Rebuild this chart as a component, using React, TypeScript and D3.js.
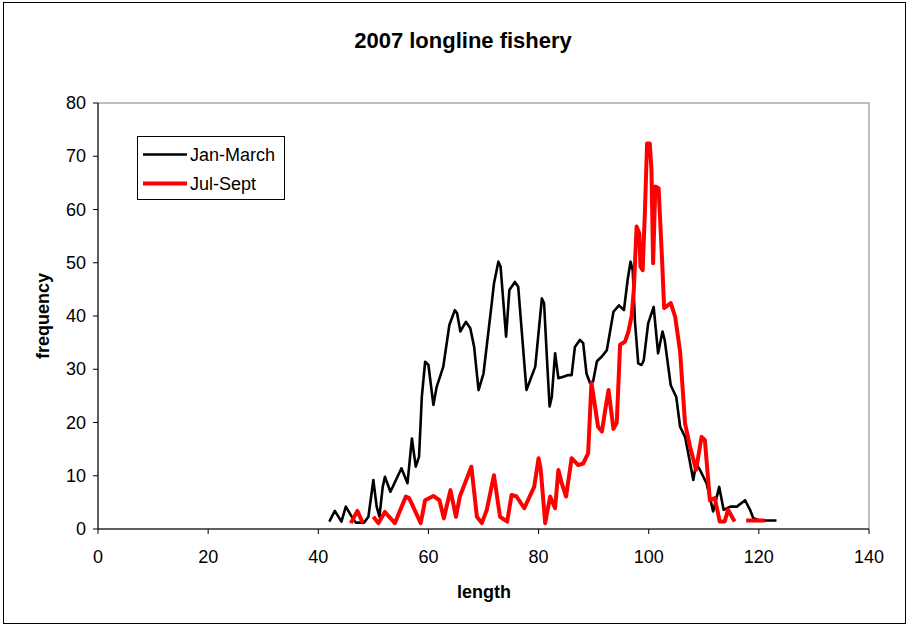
import * as d3 from 'd3'

// Jan-March series (length, frequency)
const janLen = [
  42.0, 43.0, 44.2, 45.0, 45.9, 46.8, 48.3, 49.1, 50.0, 50.6, 51.1, 51.7, 52.1, 53.1, 55.1, 56.2,
  57.0, 57.7, 58.3, 58.8, 59.4, 60.0, 60.9, 61.5, 62.7, 63.8, 64.8, 65.2, 65.8, 66.8, 67.6, 68.3,
  69.1, 70.0, 71.5, 71.9, 72.7, 73.1, 74.1, 74.7, 75.7, 76.3, 77.8, 79.4, 80.6, 81.0, 81.5, 82.0,
  82.4, 83.0, 83.6, 84.5, 85.4, 86.0, 86.6, 87.5, 88.1, 88.7, 89.3, 89.9, 90.6, 91.5, 92.4, 93.6,
  94.6, 95.5, 96.2, 96.7, 97.1, 97.5, 98.1, 98.7, 99.1, 99.9, 100.9, 101.7, 102.5, 102.9, 104.0,
  105.0, 105.7, 106.6, 107.4, 108.1, 108.6, 109.3, 110.5, 111.7, 112.8, 113.6, 114.8, 116.0,
  117.5, 118.4, 119.0, 120.2, 123.2,
]
const janFreq = [
  1.4, 3.4, 1.4, 4.2, 2.6, 1.2, 1.2, 2.3, 9.2, 4.2, 2.3, 7.9, 9.8, 7.0, 11.4, 8.6,
  17.0, 11.7, 13.6, 24.8, 31.4, 30.8, 23.3, 26.7, 30.5, 38.3, 41.1, 40.5, 37.1, 38.9, 37.7, 34.2,
  26.1, 29.2, 42.4, 46.1, 50.2, 49.3, 36.1, 44.9, 46.4, 45.5, 26.1, 30.5, 43.3, 42.4, 32.4, 23.0,
  24.8, 33.0, 28.3, 28.6, 28.9, 28.9, 34.2, 35.5, 34.9, 29.2, 27.5, 27.7, 31.5, 32.4, 33.6, 40.8,
  42.0, 41.1, 47.0, 50.2, 48.6, 39.0, 31.1, 30.8, 31.7, 38.6, 41.7, 33.0, 37.1, 35.5, 27.0,
  24.8, 19.2, 17.3, 13.0, 9.2, 12.3, 11.1, 8.6, 3.3, 7.9, 3.6, 4.2, 4.2,
  5.4, 3.6, 2.0, 1.6, 1.6,
]

// Jul-Sept series (null = gap)
const julLen = [
  45.9, 47.1, 48.1, 49.0, 50.0, 50.9, 52.1, 53.9, 55.9, 56.5, 58.6, 59.4, 60.9, 62.0, 62.8, 64.0,
  64.5, 65.0, 65.7, 67.8, 68.8, 69.7, 70.6, 71.9, 73.0, 74.3, 75.1, 76.0, 77.4, 79.2, 80.0, 80.4,
  81.2, 82.1, 83.0, 83.6, 84.2, 85.0, 86.0, 87.2, 88.1, 89.0, 89.6, 90.0, 90.8, 91.5, 92.1, 92.7,
  93.6, 94.2, 94.8, 95.7, 96.3, 96.9, 97.3, 97.8, 98.3, 98.5, 98.9, 99.3, 99.7, 100.2, 100.5,
  100.8, 101.2, 101.8, 102.4, 102.8, 104.0, 104.8, 105.7, 106.6, 107.5, 108.6, 109.6, 110.2,
  111.1, 112.0, 112.9, 113.8, 114.4, 115.6, 116.6, 117.7, 121.1,
]
const julFreq: (number | null)[] = [
  1.1, 3.4, 1.1, null, 2.3, 1.1, 3.2, 1.1, 6.1, 5.8, 1.1, 5.4, 6.2, 5.4, 2.0, 7.3,
  4.8, 2.3, 6.1, 11.7, 2.3, 1.1, 3.6, 10.1, 2.3, 1.4, 6.4, 6.1, 3.9, 7.9, 13.3, 11.1,
  1.1, 6.1, 3.9, 11.1, 8.6, 6.1, 13.3, 12.0, 12.3, 14.2, 27.4, 24.8, 19.2, 18.3, 22.3, 26.1,
  18.8, 20.0, 34.6, 35.2, 37.0, 40.0, 45.0, 56.8, 55.5, 49.3, 48.6, 59.3, 72.4, 72.4, 67.4,
  49.9, 64.3, 64.0, 51.1, 41.5, 42.4, 39.9, 33.3, 19.8, 15.5, 11.1, 17.3, 16.7,
  5.4, 5.8, 1.4, 1.4, 3.6, 1.4, null, 1.6, 1.6,
]

const xTicks = [0, 20, 40, 60, 80, 100, 120, 140]
const yTicks = [0, 10, 20, 30, 40, 50, 60, 70, 80]

const FONT = '"Liberation Sans", Arial, sans-serif'

export default function App() {
  const W = 908
  const H = 625
  const x = d3.scaleLinear().domain([0, 140]).range([98, 869])
  const y = d3.scaleLinear().domain([0, 80]).range([529, 103])

  const janPts = janLen.map((l, i) => [l, janFreq[i]] as [number, number | null])
  const julPts = julLen.map((l, i) => [l, julFreq[i]] as [number, number | null])

  const line = d3.line<[number, number | null]>()
    .defined((d) => d[1] != null)
    .x((d) => x(d[0]))
    .y((d) => y(d[1] as number))

  return (
    <svg width={W} height={H} style={{ position: 'absolute', left: 0, top: 0, background: '#fff' }}
      fontFamily={FONT}>
      <rect x={3.5} y={2.5} width={902} height={621} fill="#fff" stroke="#000" strokeWidth={1} />

      <text x={463} y={48} textAnchor="middle" fontSize={22} fontWeight="bold">2007 longline fishery</text>

      {/* plot box */}
      <rect x={x(0)} y={y(80)} width={x(140) - x(0)} height={y(0) - y(80)}
        fill="none" stroke="#808080" strokeWidth={1} />
      <line x1={x(0)} x2={x(0)} y1={y(80)} y2={y(0)} stroke="#000" />
      <line x1={x(0)} x2={x(140)} y1={y(0)} y2={y(0)} stroke="#000" />

      {yTicks.map((t) => (
        <g key={'y' + t}>
          <line x1={x(0) - 5} x2={x(0)} y1={y(t)} y2={y(t)} stroke="#000" />
          <text x={86} y={y(t) + 6} textAnchor="end" fontSize={18}>{t}</text>
        </g>
      ))}
      {xTicks.map((t) => (
        <g key={'x' + t}>
          <line x1={x(t)} x2={x(t)} y1={y(0)} y2={y(0) + 5} stroke="#000" />
          <text x={x(t)} y={563} textAnchor="middle" fontSize={18}>{t}</text>
        </g>
      ))}

      <text x={484} y={598} textAnchor="middle" fontSize={18} fontWeight="bold">length</text>
      <text transform="translate(49,316) rotate(-90)" textAnchor="middle" fontSize={18} fontWeight="bold">frequency</text>

      <path d={line(janPts) ?? ''} fill="none" stroke="#000" strokeWidth={2.6} strokeLinejoin="round" />
      <path d={line(julPts) ?? ''} fill="none" stroke="#ff0000" strokeWidth={4} strokeLinejoin="round" />

      {/* legend */}
      <rect x={137.5} y={136.5} width={147} height={63} fill="#fff" stroke="#000" strokeWidth={1} />
      <line x1={143} x2={187} y1={154.5} y2={154.5} stroke="#000" strokeWidth={2.6} />
      <text x={190} y={160.5} fontSize={18}>Jan-March</text>
      <line x1={143} x2={187} y1={183.5} y2={183.5} stroke="#ff0000" strokeWidth={4} />
      <text x={190} y={189.5} fontSize={18}>Jul-Sept</text>
    </svg>
  )
}
